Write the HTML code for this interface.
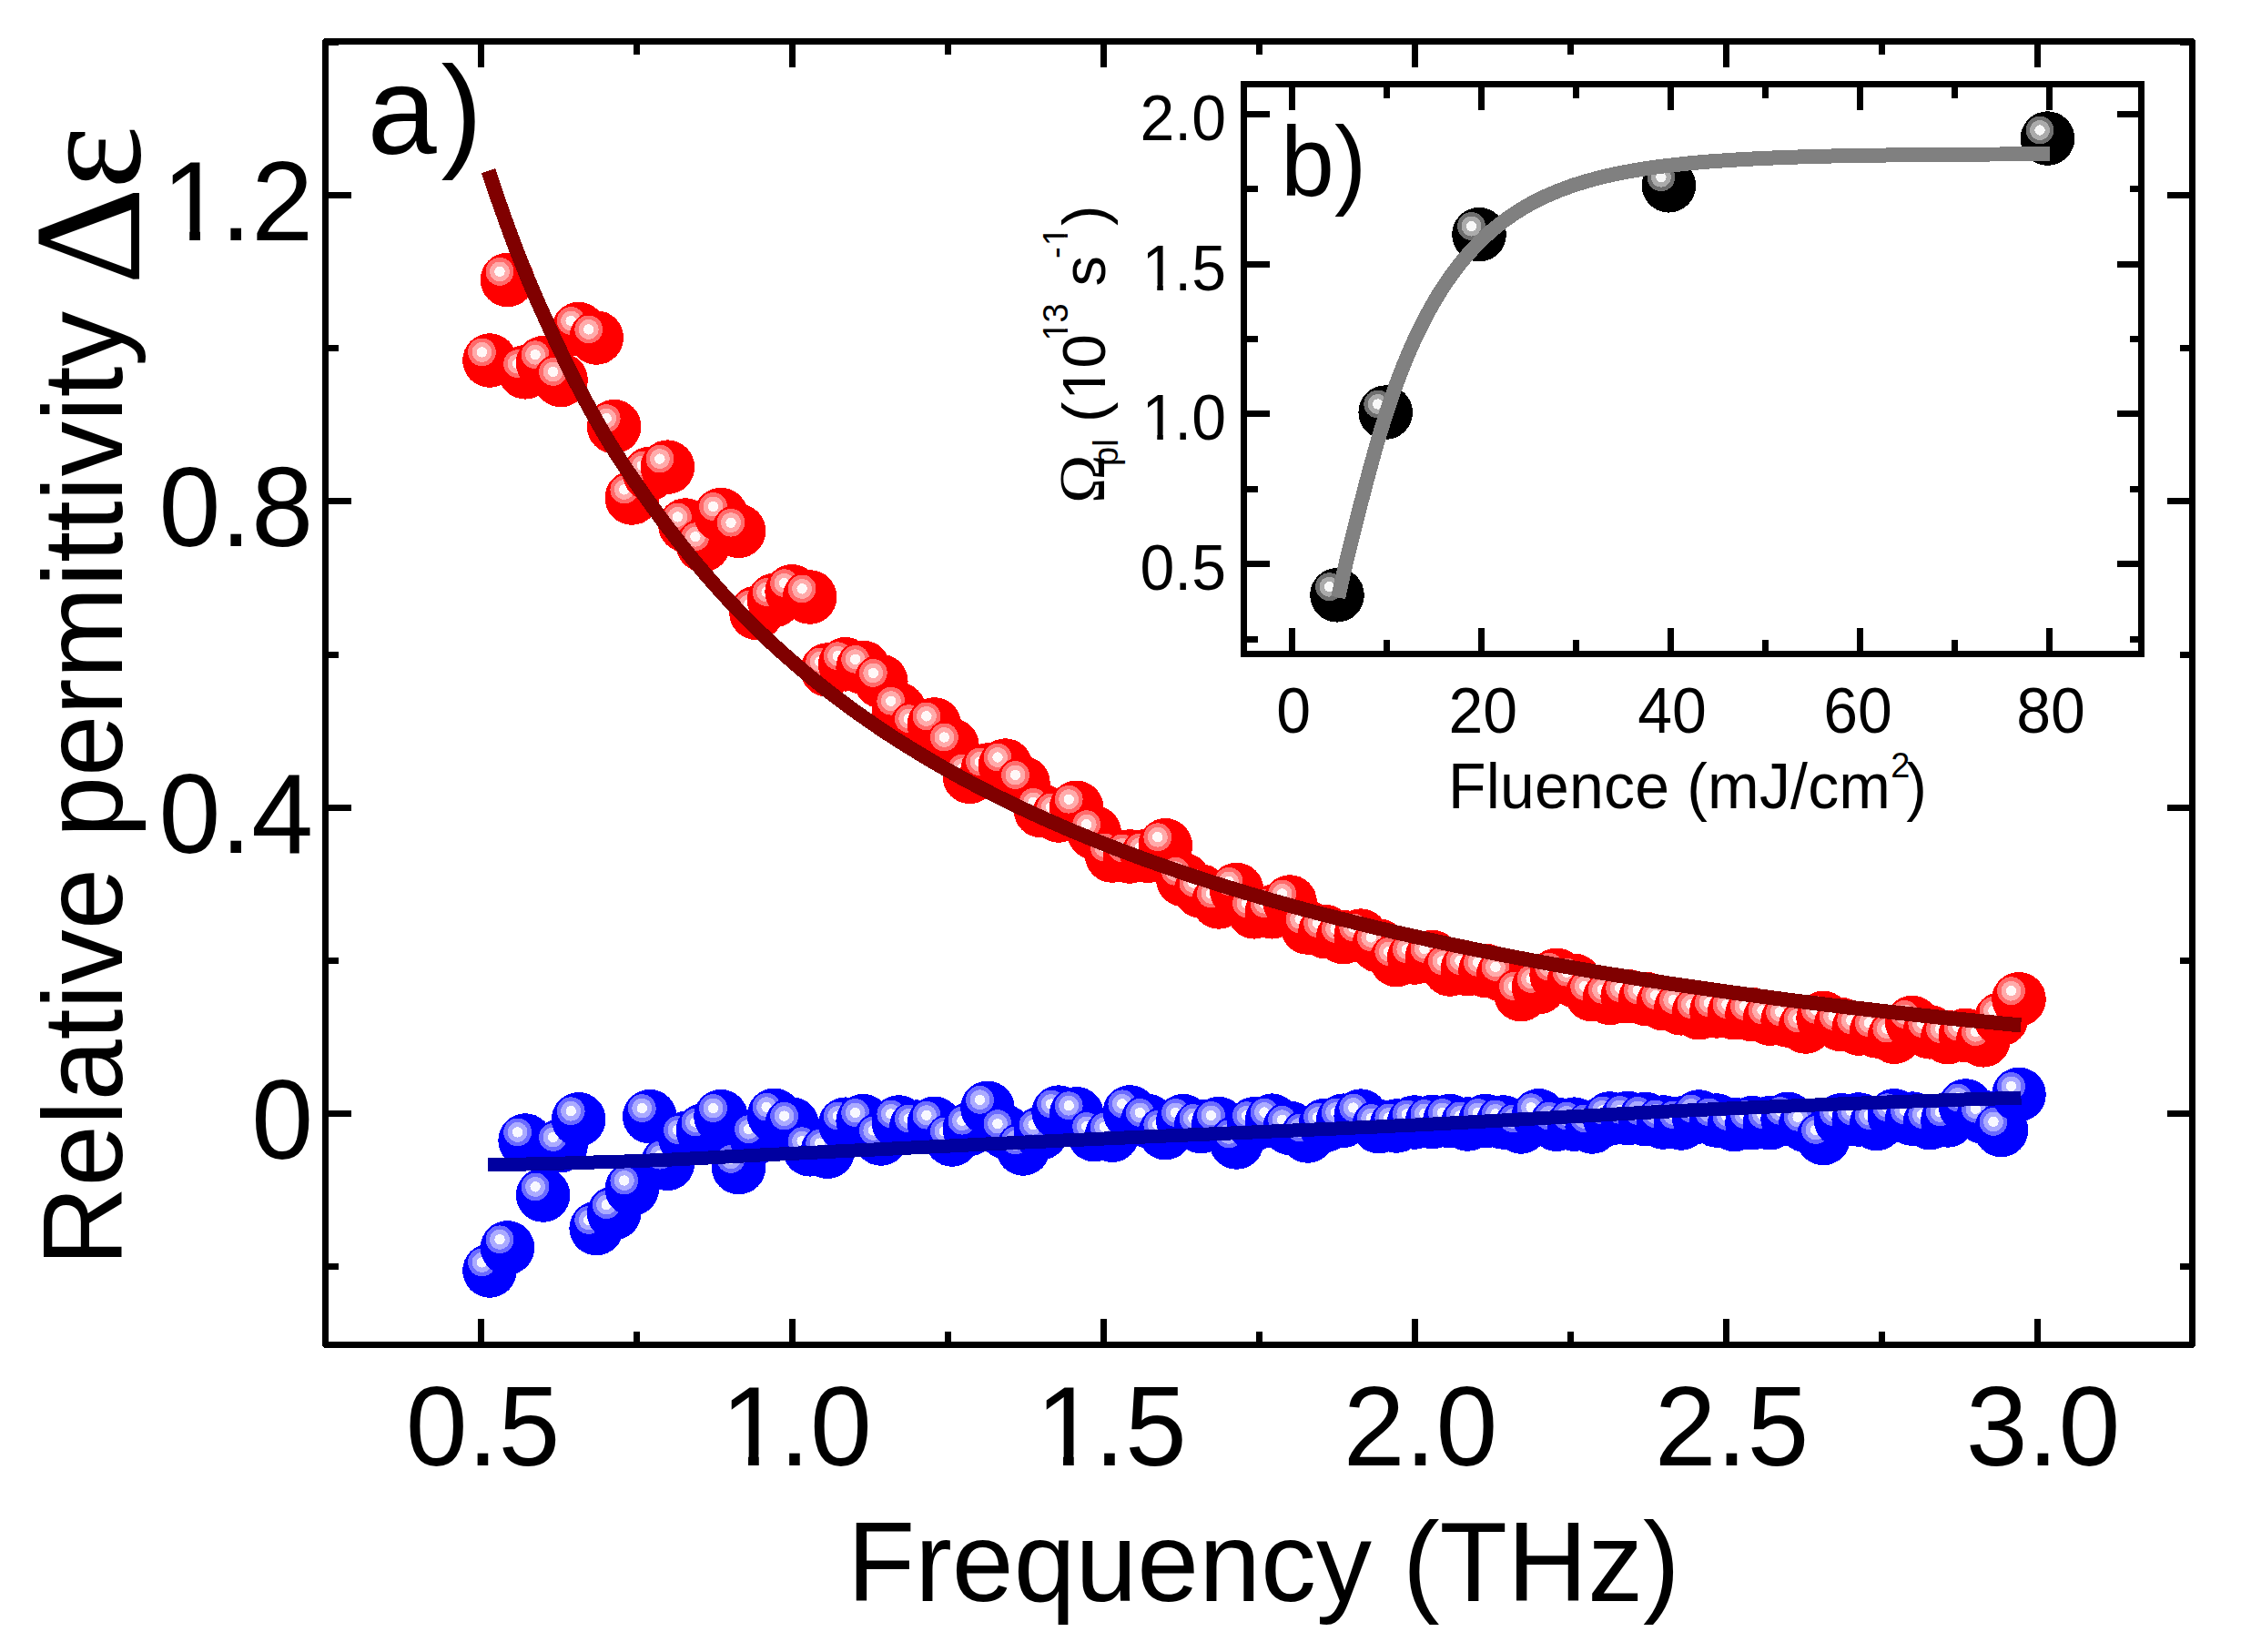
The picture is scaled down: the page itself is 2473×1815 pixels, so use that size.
<!DOCTYPE html>
<html lang="en"><head><meta charset="utf-8"><title>Relative permittivity vs frequency</title>
<style>html,body{margin:0;padding:0;background:#fff}svg{display:block}text{font-family:"Liberation Sans",sans-serif;fill:#000}.sy{font-family:"Liberation Serif",serif}</style></head><body>
<svg width="2473" height="1815" viewBox="0 0 2473 1815" shape-rendering="crispEdges">
<rect width="2473" height="1815" fill="#fff"/>
<defs>
<g id="r"><circle r="29.8" fill="#ff0000"/><circle cx="-8.5" cy="-9.1" r="15.4" fill="#ff6b6b"/><circle cx="-8.5" cy="-9.1" r="10.9" fill="#ffabab"/><circle cx="-8.5" cy="-9.1" r="5.7" fill="#fff8f8"/></g>
<g id="b"><circle r="29.8" fill="#0000ff"/><circle cx="-8.5" cy="-9.1" r="15.4" fill="#6b6bff"/><circle cx="-8.5" cy="-9.1" r="10.9" fill="#ababff"/><circle cx="-8.5" cy="-9.1" r="5.7" fill="#f8f8ff"/></g>
<g id="k"><circle r="29.8" fill="#000000"/><circle cx="-8.5" cy="-9.1" r="15.4" fill="#6e6e6e"/><circle cx="-8.5" cy="-9.1" r="10.9" fill="#ababab"/><circle cx="-8.5" cy="-9.1" r="5.7" fill="#f8f8f8"/></g>
<clipPath id="c1"><rect x="-10" y="-80" width="70" height="70.6"/><rect x="24.7" y="-80" width="9.6" height="82"/></clipPath>
</defs>
<g id="red">
<use href="#r" x="538.0" y="396.0"/>
<use href="#r" x="557.5" y="307.5"/>
<use href="#r" x="577.1" y="408.8"/>
<use href="#r" x="596.6" y="398.8"/>
<use href="#r" x="616.1" y="417.5"/>
<use href="#r" x="635.7" y="361.6"/>
<use href="#r" x="655.2" y="371.0"/>
<use href="#r" x="674.7" y="468.7"/>
<use href="#r" x="694.3" y="547.0"/>
<use href="#r" x="713.8" y="520.5"/>
<use href="#r" x="733.4" y="513.2"/>
<use href="#r" x="752.9" y="577.0"/>
<use href="#r" x="772.4" y="598.8"/>
<use href="#r" x="792.0" y="565.6"/>
<use href="#r" x="811.5" y="583.3"/>
<use href="#r" x="831.0" y="673.3"/>
<use href="#r" x="850.6" y="659.6"/>
<use href="#r" x="870.1" y="649.8"/>
<use href="#r" x="889.6" y="656.0"/>
<use href="#r" x="909.2" y="736.0"/>
<use href="#r" x="928.7" y="729.8"/>
<use href="#r" x="948.2" y="733.4"/>
<use href="#r" x="967.8" y="748.5"/>
<use href="#r" x="987.3" y="779.3"/>
<use href="#r" x="1006.8" y="798.8"/>
<use href="#r" x="1026.4" y="796.0"/>
<use href="#r" x="1045.9" y="819.1"/>
<use href="#r" x="1065.4" y="853.3"/>
<use href="#r" x="1085.0" y="846.0"/>
<use href="#r" x="1104.5" y="841.1"/>
<use href="#r" x="1124.0" y="860.5"/>
<use href="#r" x="1143.6" y="890.5"/>
<use href="#r" x="1163.1" y="896.0"/>
<use href="#r" x="1182.7" y="887.3"/>
<use href="#r" x="1202.2" y="914.8"/>
<use href="#r" x="1221.7" y="940.0"/>
<use href="#r" x="1241.3" y="941.0"/>
<use href="#r" x="1260.8" y="940.2"/>
<use href="#r" x="1280.3" y="928.8"/>
<use href="#r" x="1299.9" y="966.4"/>
<use href="#r" x="1319.4" y="979.1"/>
<use href="#r" x="1338.9" y="990.9"/>
<use href="#r" x="1358.5" y="977.5"/>
<use href="#r" x="1378.0" y="1001.8"/>
<use href="#r" x="1397.5" y="1001.8"/>
<use href="#r" x="1417.1" y="991.0"/>
<use href="#r" x="1436.6" y="1019.0"/>
<use href="#r" x="1456.1" y="1023.6"/>
<use href="#r" x="1475.7" y="1029.6"/>
<use href="#r" x="1495.2" y="1028.1"/>
<use href="#r" x="1514.8" y="1039.0"/>
<use href="#r" x="1534.3" y="1054.6"/>
<use href="#r" x="1553.8" y="1052.0"/>
<use href="#r" x="1573.4" y="1051.5"/>
<use href="#r" x="1592.9" y="1065.0"/>
<use href="#r" x="1612.4" y="1064.6"/>
<use href="#r" x="1632.0" y="1066.4"/>
<use href="#r" x="1651.5" y="1071.5"/>
<use href="#r" x="1671.0" y="1092.6"/>
<use href="#r" x="1690.6" y="1084.6"/>
<use href="#r" x="1710.1" y="1071.3"/>
<use href="#r" x="1729.6" y="1077.3"/>
<use href="#r" x="1749.2" y="1092.7"/>
<use href="#r" x="1768.7" y="1096.4"/>
<use href="#r" x="1788.2" y="1094.6"/>
<use href="#r" x="1807.8" y="1097.3"/>
<use href="#r" x="1827.3" y="1102.7"/>
<use href="#r" x="1846.8" y="1107.8"/>
<use href="#r" x="1866.4" y="1112.7"/>
<use href="#r" x="1885.9" y="1110.9"/>
<use href="#r" x="1905.5" y="1112.7"/>
<use href="#r" x="1925.0" y="1114.7"/>
<use href="#r" x="1944.5" y="1119.2"/>
<use href="#r" x="1964.1" y="1121.0"/>
<use href="#r" x="1983.6" y="1128.0"/>
<use href="#r" x="2003.1" y="1118.5"/>
<use href="#r" x="2022.7" y="1125.6"/>
<use href="#r" x="2042.2" y="1130.1"/>
<use href="#r" x="2061.7" y="1132.9"/>
<use href="#r" x="2081.3" y="1139.2"/>
<use href="#r" x="2100.8" y="1123.5"/>
<use href="#r" x="2120.3" y="1133.8"/>
<use href="#r" x="2139.9" y="1139.6"/>
<use href="#r" x="2159.4" y="1137.4"/>
<use href="#r" x="2178.9" y="1142.8"/>
<use href="#r" x="2198.5" y="1119.5"/>
<use href="#r" x="2218.0" y="1097.8"/>
</g>
<path d="M536.6 187.6 L547.3 219.6 L558.0 249.7 L568.7 278.3 L579.5 305.3 L590.5 331.0 L601.5 355.3 L612.2 378.5 L622.9 400.6 L633.5 421.7 L644.1 441.8 L654.7 461.1 L665.3 479.5 L676.1 497.2 L687.2 514.1 L698.3 530.3 L709.1 545.9 L719.9 561.0 L730.6 575.4 L741.2 589.3 L751.7 602.7 L762.2 615.7 L772.7 628.2 L783.2 640.2 L793.6 651.9 L804.1 663.2 L814.5 674.1 L825.0 684.6 L835.5 694.9 L845.9 704.8 L856.4 714.4 L866.9 723.7 L877.4 732.8 L887.8 741.6 L898.3 750.2 L908.8 758.5 L919.3 766.6 L929.8 774.4 L940.3 782.1 L950.9 789.5 L961.4 796.8 L971.9 803.9 L982.5 810.8 L993.0 817.5 L1003.6 824.0 L1014.1 830.4 L1024.7 836.7 L1035.2 842.8 L1045.8 848.7 L1056.3 854.5 L1066.9 860.2 L1077.5 865.8 L1088.0 871.2 L1098.6 876.5 L1109.2 881.7 L1119.7 886.8 L1130.3 891.7 L1140.9 896.6 L1151.5 901.4 L1162.0 906.0 L1172.6 910.6 L1183.2 915.1 L1193.8 919.4 L1204.3 923.7 L1214.9 927.9 L1225.5 932.1 L1236.1 936.1 L1246.6 940.1 L1257.2 944.0 L1267.8 947.8 L1278.4 951.5 L1289.0 955.2 L1299.5 958.8 L1310.1 962.4 L1320.7 965.8 L1331.3 969.3 L1341.9 972.6 L1352.4 975.9 L1363.0 979.1 L1373.6 982.3 L1384.2 985.4 L1394.8 988.5 L1405.4 991.5 L1415.9 994.5 L1426.5 997.4 L1437.1 1000.3 L1447.7 1003.1 L1458.3 1005.8 L1468.8 1008.6 L1479.4 1011.2 L1490.0 1013.9 L1500.6 1016.5 L1511.2 1019.0 L1521.7 1021.5 L1532.3 1024.0 L1542.9 1026.4 L1553.5 1028.8 L1564.1 1031.1 L1574.6 1033.5 L1585.2 1035.7 L1595.8 1038.0 L1606.4 1040.2 L1617.0 1042.4 L1627.5 1044.5 L1638.1 1046.6 L1648.7 1048.7 L1659.3 1050.7 L1669.9 1052.8 L1680.4 1054.7 L1691.0 1056.7 L1701.6 1058.6 L1712.2 1060.5 L1722.8 1062.4 L1733.3 1064.2 L1743.9 1066.0 L1754.5 1067.8 L1765.1 1069.6 L1775.7 1071.3 L1786.2 1073.0 L1796.8 1074.7 L1807.4 1076.4 L1818.0 1078.0 L1828.6 1079.7 L1839.1 1081.3 L1849.7 1082.8 L1860.3 1084.4 L1870.9 1085.9 L1881.5 1087.4 L1892.1 1088.9 L1902.6 1090.4 L1913.2 1091.8 L1923.8 1093.2 L1934.4 1094.6 L1945.0 1096.0 L1955.6 1097.4 L1966.1 1098.8 L1976.7 1100.1 L1987.3 1101.4 L1997.9 1102.7 L2008.5 1104.0 L2019.1 1105.2 L2029.7 1106.5 L2040.2 1107.7 L2050.8 1108.9 L2061.4 1110.1 L2072.0 1111.3 L2082.6 1112.5 L2093.2 1113.6 L2103.8 1114.8 L2114.3 1115.9 L2124.9 1117.0 L2135.5 1118.1 L2146.1 1119.2 L2156.7 1120.2 L2167.3 1121.3 L2177.9 1122.3 L2188.5 1123.3 L2199.0 1124.4 L2209.6 1125.4 L2220.2 1126.3" fill="none" stroke="#800000" stroke-width="16"/>
<g id="blue">
<use href="#b" x="538.0" y="1396.0"/>
<use href="#b" x="557.5" y="1370.9"/>
<use href="#b" x="577.1" y="1253.0"/>
<use href="#b" x="596.6" y="1313.0"/>
<use href="#b" x="616.1" y="1258.5"/>
<use href="#b" x="635.7" y="1229.8"/>
<use href="#b" x="655.2" y="1349.5"/>
<use href="#b" x="674.7" y="1332.7"/>
<use href="#b" x="694.3" y="1306.1"/>
<use href="#b" x="713.8" y="1226.7"/>
<use href="#b" x="733.4" y="1278.3"/>
<use href="#b" x="752.9" y="1250.7"/>
<use href="#b" x="772.4" y="1242.1"/>
<use href="#b" x="792.0" y="1226.7"/>
<use href="#b" x="811.5" y="1282.5"/>
<use href="#b" x="831.0" y="1249.8"/>
<use href="#b" x="850.6" y="1225.3"/>
<use href="#b" x="870.1" y="1235.2"/>
<use href="#b" x="889.6" y="1262.8"/>
<use href="#b" x="909.2" y="1265.2"/>
<use href="#b" x="928.7" y="1235.2"/>
<use href="#b" x="948.2" y="1231.6"/>
<use href="#b" x="967.8" y="1251.0"/>
<use href="#b" x="987.3" y="1233.0"/>
<use href="#b" x="1006.8" y="1238.1"/>
<use href="#b" x="1026.4" y="1234.3"/>
<use href="#b" x="1045.9" y="1252.0"/>
<use href="#b" x="1065.4" y="1240.3"/>
<use href="#b" x="1085.0" y="1217.4"/>
<use href="#b" x="1104.5" y="1243.7"/>
<use href="#b" x="1124.0" y="1262.0"/>
<use href="#b" x="1143.6" y="1244.8"/>
<use href="#b" x="1163.1" y="1222.1"/>
<use href="#b" x="1182.7" y="1223.8"/>
<use href="#b" x="1202.2" y="1246.6"/>
<use href="#b" x="1221.7" y="1247.2"/>
<use href="#b" x="1241.3" y="1221.9"/>
<use href="#b" x="1260.8" y="1231.5"/>
<use href="#b" x="1280.3" y="1244.6"/>
<use href="#b" x="1299.9" y="1231.6"/>
<use href="#b" x="1319.4" y="1237.6"/>
<use href="#b" x="1338.9" y="1234.6"/>
<use href="#b" x="1358.5" y="1255.0"/>
<use href="#b" x="1378.0" y="1234.8"/>
<use href="#b" x="1397.5" y="1231.2"/>
<use href="#b" x="1417.1" y="1239.4"/>
<use href="#b" x="1436.6" y="1248.0"/>
<use href="#b" x="1456.1" y="1236.3"/>
<use href="#b" x="1475.7" y="1231.2"/>
<use href="#b" x="1495.2" y="1226.1"/>
<use href="#b" x="1514.8" y="1237.6"/>
<use href="#b" x="1534.3" y="1237.0"/>
<use href="#b" x="1553.8" y="1233.0"/>
<use href="#b" x="1573.4" y="1232.6"/>
<use href="#b" x="1592.9" y="1231.6"/>
<use href="#b" x="1612.4" y="1235.0"/>
<use href="#b" x="1632.0" y="1231.6"/>
<use href="#b" x="1651.5" y="1233.0"/>
<use href="#b" x="1671.0" y="1238.0"/>
<use href="#b" x="1690.6" y="1225.8"/>
<use href="#b" x="1710.1" y="1235.2"/>
<use href="#b" x="1729.6" y="1235.2"/>
<use href="#b" x="1749.2" y="1238.0"/>
<use href="#b" x="1768.7" y="1229.0"/>
<use href="#b" x="1788.2" y="1228.5"/>
<use href="#b" x="1807.8" y="1229.5"/>
<use href="#b" x="1827.3" y="1233.0"/>
<use href="#b" x="1846.8" y="1234.0"/>
<use href="#b" x="1866.4" y="1227.0"/>
<use href="#b" x="1885.9" y="1231.0"/>
<use href="#b" x="1905.5" y="1235.5"/>
<use href="#b" x="1925.0" y="1233.7"/>
<use href="#b" x="1944.5" y="1233.7"/>
<use href="#b" x="1964.1" y="1229.5"/>
<use href="#b" x="1983.6" y="1236.4"/>
<use href="#b" x="2003.1" y="1250.5"/>
<use href="#b" x="2022.7" y="1230.8"/>
<use href="#b" x="2042.2" y="1230.0"/>
<use href="#b" x="2061.7" y="1234.5"/>
<use href="#b" x="2081.3" y="1225.8"/>
<use href="#b" x="2100.8" y="1229.1"/>
<use href="#b" x="2120.3" y="1233.6"/>
<use href="#b" x="2139.9" y="1230.9"/>
<use href="#b" x="2159.4" y="1215.0"/>
<use href="#b" x="2178.9" y="1227.3"/>
<use href="#b" x="2198.5" y="1241.5"/>
<use href="#b" x="2218.0" y="1202.5"/>
</g>
<path d="M535.8 1279.8 L550.0 1279.6 L564.1 1279.3 L578.3 1279.0 L592.4 1278.7 L606.6 1278.3 L620.7 1278.0 L634.9 1277.6 L649.1 1277.1 L663.2 1276.7 L677.4 1276.3 L691.5 1275.8 L705.7 1275.3 L719.8 1274.8 L734.0 1274.2 L748.2 1273.5 L762.3 1272.8 L776.5 1272.1 L790.6 1271.3 L804.8 1270.6 L818.9 1269.9 L833.1 1269.1 L847.3 1268.4 L861.4 1267.8 L875.6 1267.1 L889.7 1266.4 L903.9 1265.7 L918.0 1265.0 L932.2 1264.3 L946.4 1263.7 L960.5 1263.0 L974.7 1262.3 L988.8 1261.6 L1003.0 1260.9 L1017.1 1260.2 L1031.3 1259.6 L1045.5 1258.9 L1059.6 1258.2 L1073.8 1257.5 L1087.9 1256.8 L1102.1 1256.2 L1116.2 1255.5 L1130.4 1254.8 L1144.6 1254.2 L1158.7 1253.5 L1172.9 1252.8 L1187.0 1252.2 L1201.2 1251.5 L1215.3 1250.9 L1229.5 1250.3 L1243.7 1249.6 L1257.8 1249.0 L1272.0 1248.4 L1286.1 1247.8 L1300.3 1247.2 L1314.4 1246.6 L1328.6 1246.0 L1342.8 1245.4 L1356.9 1244.8 L1371.1 1244.2 L1385.2 1243.6 L1399.4 1242.9 L1413.5 1242.3 L1427.7 1241.7 L1441.9 1241.1 L1456.0 1240.5 L1470.2 1239.9 L1484.3 1239.2 L1498.5 1238.6 L1512.6 1238.0 L1526.8 1237.3 L1541.0 1236.6 L1555.1 1236.0 L1569.3 1235.3 L1583.4 1234.5 L1597.6 1233.8 L1611.7 1233.1 L1625.9 1232.3 L1640.1 1231.6 L1654.2 1230.8 L1668.4 1230.0 L1682.5 1229.2 L1696.7 1228.4 L1710.8 1227.6 L1725.0 1226.8 L1739.2 1226.1 L1753.3 1225.3 L1767.5 1224.5 L1781.6 1223.7 L1795.8 1223.0 L1809.9 1222.2 L1824.1 1221.5 L1838.3 1220.8 L1852.4 1220.1 L1866.6 1219.4 L1880.7 1218.8 L1894.9 1218.1 L1909.0 1217.5 L1923.2 1216.9 L1937.4 1216.3 L1951.5 1215.7 L1965.7 1215.1 L1979.8 1214.6 L1994.0 1214.0 L2008.1 1213.4 L2022.3 1212.9 L2036.5 1212.3 L2050.6 1211.8 L2064.8 1211.3 L2078.9 1210.8 L2093.1 1210.3 L2107.2 1209.8 L2121.4 1209.3 L2135.6 1208.8 L2149.7 1208.3 L2163.9 1207.8 L2178.0 1207.4 L2192.2 1207.0 L2206.3 1206.5 L2220.5 1206.1" fill="none" stroke="#0000a0" stroke-width="15"/>
<g stroke="#000" stroke-width="7" fill="none" shape-rendering="crispEdges">
<rect x="357.5" y="45.5" width="2051.0" height="1431.8" stroke-linejoin="round"/>
<path d="M528.0 1473.8v-24.5M528.0 49.0v24.5M699.0 1473.8v-10.5M699.0 49.0v10.5M870.0 1473.8v-24.5M870.0 49.0v24.5M1041.0 1473.8v-10.5M1041.0 49.0v10.5M1212.0 1473.8v-24.5M1212.0 49.0v24.5M1383.0 1473.8v-10.5M1383.0 49.0v10.5M1554.0 1473.8v-24.5M1554.0 49.0v24.5M1725.0 1473.8v-10.5M1725.0 49.0v10.5M1896.0 1473.8v-24.5M1896.0 49.0v24.5M2067.0 1473.8v-10.5M2067.0 49.0v10.5M2238.0 1473.8v-24.5M2238.0 49.0v24.5M361.0 1391.8h10.5M2405.0 1391.8h-10.5M361.0 1223.6h24.5M2405.0 1223.6h-24.5M361.0 1055.4h10.5M2405.0 1055.4h-10.5M361.0 887.2h24.5M2405.0 887.2h-24.5M361.0 719.0h10.5M2405.0 719.0h-10.5M361.0 550.8h24.5M2405.0 550.8h-24.5M361.0 382.6h10.5M2405.0 382.6h-10.5M361.0 214.4h24.5M2405.0 214.4h-24.5M361.0 46.2h10.5M2405.0 46.2h-10.5"/>
</g>
<g font-size="122">
<text transform="translate(530.5 1610.0) scale(1 1.025)" font-size="122" text-anchor="middle">0.5</text>
<g transform="translate(873.0 1610.0) scale(1 1.025)"><g transform="translate(-81.1 0) scale(1.220)" clip-path="url(#c1)"><text font-size="100">1</text></g><text x="-17.0" font-size="122">.0</text></g>
<g transform="translate(1219.0 1610.0) scale(1 1.025)"><g transform="translate(-81.1 0) scale(1.220)" clip-path="url(#c1)"><text font-size="100">1</text></g><text x="-17.0" font-size="122">.5</text></g>
<text transform="translate(1560.5 1610.0) scale(1 1.025)" font-size="122" text-anchor="middle">2.0</text>
<text transform="translate(1902.5 1610.0) scale(1 1.025)" font-size="122" text-anchor="middle">2.5</text>
<text transform="translate(2244.5 1610.0) scale(1 1.025)" font-size="122" text-anchor="middle">3.0</text>
<g transform="translate(344.0 263.9) scale(1 1.025)"><g transform="translate(-165.9 0) scale(1.220)" clip-path="url(#c1)"><text font-size="100">1</text></g><text x="-101.7" font-size="122">.2</text></g>
<text transform="translate(344.0 600.3) scale(1 1.025)" font-size="122" text-anchor="end">0.8</text>
<text transform="translate(344.0 936.7) scale(1 1.025)" font-size="122" text-anchor="end">0.4</text>
<text transform="translate(344.0 1273.1) scale(1 1.025)" font-size="122" text-anchor="end">0</text>
<text transform="translate(930.7 1758.5) scale(1 1.025)" font-size="122">Frequency (THz)</text>
</g>
<text x="403.5" y="169" font-size="137">a</text><text x="530" y="169" font-size="137" text-anchor="end">)</text>
<g transform="translate(133.5 1391) rotate(-90)"><text transform="scale(1 1.025)" font-size="121">Relative permittivity</text><text class="sy" x="1078" y="19.5" font-size="167">Δ<tspan dx="-2.5">ε</tspan></text></g>
<rect x="1366.5" y="92.5" width="986.0" height="625.8" fill="#fff"/>
<g id="inset-data">
<use href="#k" x="1469.0" y="653.8"/>
<use href="#k" x="1522.2" y="453.1"/>
<use href="#k" x="1625.0" y="257.7"/>
<use href="#k" x="1833.4" y="203.8"/>
<use href="#k" x="2249.5" y="152.1"/>
</g>
<path d="M1470.2 656.5 L1472.9 644.0 L1475.7 631.8 L1478.4 620.0 L1481.2 608.5 L1484.0 597.2 L1486.7 586.3 L1489.3 575.7 L1492.0 565.3 L1494.5 555.3 L1497.1 545.5 L1499.5 535.9 L1502.0 526.6 L1504.4 517.6 L1506.8 508.8 L1509.2 500.2 L1511.5 491.8 L1513.9 483.7 L1516.2 475.8 L1518.6 468.1 L1520.9 460.6 L1523.3 453.3 L1525.6 446.1 L1527.9 439.2 L1530.3 432.5 L1532.6 425.9 L1535.0 419.5 L1537.3 413.3 L1539.7 407.2 L1542.0 401.3 L1544.4 395.5 L1546.7 389.9 L1549.1 384.4 L1551.4 379.1 L1553.7 373.9 L1556.1 368.9 L1558.4 363.9 L1560.8 359.2 L1563.1 354.5 L1565.5 349.9 L1567.8 345.5 L1570.2 341.2 L1572.5 337.0 L1574.8 332.9 L1577.2 328.9 L1579.5 325.0 L1581.9 321.2 L1584.2 317.5 L1586.6 313.9 L1588.9 310.4 L1591.3 306.9 L1593.6 303.6 L1596.0 300.4 L1598.3 297.2 L1600.6 294.1 L1603.0 291.1 L1605.3 288.2 L1607.7 285.3 L1610.0 282.5 L1612.4 279.8 L1614.7 277.1 L1617.1 274.6 L1619.4 272.0 L1621.8 269.6 L1624.1 267.2 L1626.4 264.9 L1628.8 262.6 L1631.1 260.4 L1633.5 258.2 L1635.8 256.1 L1638.2 254.0 L1640.5 252.0 L1642.9 250.1 L1645.2 248.2 L1647.6 246.3 L1649.9 244.5 L1652.2 242.7 L1654.6 241.0 L1656.9 239.3 L1659.3 237.7 L1661.6 236.1 L1664.0 234.5 L1666.3 233.0 L1668.7 231.5 L1671.0 230.0 L1673.4 228.6 L1675.7 227.2 L1678.0 225.9 L1680.4 224.6 L1682.7 223.3 L1685.1 222.0 L1687.4 220.8 L1689.8 219.6 L1692.1 218.5 L1694.5 217.3 L1696.8 216.2 L1699.2 215.1 L1701.5 214.1 L1703.8 213.1 L1706.2 212.1 L1708.5 211.1 L1710.9 210.1 L1713.2 209.2 L1715.6 208.3 L1717.9 207.4 L1720.3 206.5 L1722.6 205.7 L1724.9 204.8 L1727.3 204.0 L1729.6 203.2 L1732.0 202.5 L1734.3 201.7 L1736.7 201.0 L1739.0 200.3 L1741.4 199.6 L1743.7 198.9 L1746.1 198.2 L1748.4 197.6 L1750.7 196.9 L1753.1 196.3 L1755.4 195.7 L1757.8 195.1 L1760.1 194.5 L1762.5 193.9 L1764.8 193.4 L1767.2 192.9 L1769.5 192.3 L1771.9 191.8 L1774.2 191.3 L1776.5 190.8 L1778.9 190.3 L1781.2 189.9 L1783.6 189.4 L1785.9 189.0 L1788.3 188.5 L1790.6 188.1 L1793.0 187.7 L1795.3 187.3 L1797.7 186.9 L1800.0 186.5 L1809.2 185.0 L1818.4 183.7 L1827.7 182.5 L1836.9 181.4 L1846.1 180.4 L1855.3 179.4 L1864.6 178.6 L1873.8 177.8 L1883.0 177.1 L1892.2 176.5 L1901.4 175.9 L1910.7 175.3 L1919.9 174.8 L1929.1 174.3 L1938.3 173.9 L1947.6 173.5 L1956.8 173.2 L1966.0 172.8 L1975.2 172.5 L1984.4 172.3 L1993.7 172.0 L2002.9 171.8 L2012.1 171.5 L2021.3 171.3 L2030.6 171.2 L2039.8 171.0 L2049.0 170.8 L2058.2 170.7 L2067.5 170.6 L2076.7 170.4 L2085.9 170.3 L2095.1 170.2 L2104.3 170.1 L2113.6 170.0 L2122.8 170.0 L2132.0 169.9 L2141.2 169.8 L2150.5 169.7 L2159.7 169.7 L2168.9 169.6 L2178.1 169.6 L2187.3 169.5 L2196.6 169.5 L2205.8 169.4 L2215.0 169.4 L2224.2 169.4 L2233.5 169.3 L2242.7 169.3 L2251.9 169.3" fill="none" stroke="#808080" stroke-width="16"/>
<g stroke="#000" stroke-width="7" fill="none" shape-rendering="crispEdges">
<rect x="1366.5" y="92.5" width="986.0" height="625.8"/>
<path d="M1419.7 714.8v-25M1419.7 96.0v25M1523.7 714.8v-11.5M1523.7 96.0v11.5M1627.7 714.8v-25M1627.7 96.0v25M1731.6 714.8v-11.5M1731.6 96.0v11.5M1835.6 714.8v-25M1835.6 96.0v25M1939.6 714.8v-11.5M1939.6 96.0v11.5M2043.6 714.8v-25M2043.6 96.0v25M2147.5 714.8v-11.5M2147.5 96.0v11.5M2251.5 714.8v-25M2251.5 96.0v25M1370.0 702.2h11.5M2349.0 702.2h-9.5M1370.0 619.8h25M2349.0 619.8h-23M1370.0 537.3h11.5M2349.0 537.3h-9.5M1370.0 454.9h25M2349.0 454.9h-23M1370.0 372.5h11.5M2349.0 372.5h-9.5M1370.0 290.0h25M2349.0 290.0h-23M1370.0 207.6h11.5M2349.0 207.6h-9.5M1370.0 125.2h25M2349.0 125.2h-23"/>
</g>
<g font-size="68">
<text transform="translate(1421.2 805.0) scale(1 1.025)" font-size="68" text-anchor="middle">0</text>
<text transform="translate(1629.2 805.0) scale(1 1.025)" font-size="68" text-anchor="middle">20</text>
<text transform="translate(1837.1 805.0) scale(1 1.025)" font-size="68" text-anchor="middle">40</text>
<text transform="translate(2041.1 805.0) scale(1 1.025)" font-size="68" text-anchor="middle">60</text>
<text transform="translate(2253.0 805.0) scale(1 1.025)" font-size="68" text-anchor="middle">80</text>
<text transform="translate(1347.0 153.7) scale(1 1.025)" font-size="68" text-anchor="end">2.0</text>
<g transform="translate(1347.0 318.5) scale(1 1.025)"><g transform="translate(-92.5 0) scale(0.680)" clip-path="url(#c1)"><text font-size="100">1</text></g><text x="-56.7" font-size="68">.5</text></g>
<g transform="translate(1347.0 483.4) scale(1 1.025)"><g transform="translate(-92.5 0) scale(0.680)" clip-path="url(#c1)"><text font-size="100">1</text></g><text x="-56.7" font-size="68">.0</text></g>
<text transform="translate(1347.0 648.2) scale(1 1.025)" font-size="68" text-anchor="end">0.5</text>
<text transform="translate(1591 888) scale(1 1.025)"><tspan textLength="486" lengthAdjust="spacing">Fluence (mJ/cm</tspan><tspan font-size="38" dy="-33">2</tspan><tspan dy="33" dx="-4">)</tspan></text>
</g>
<text transform="translate(1407.0 215.0) scale(1 1.025)" font-size="106">b)</text>
<g transform="translate(1214 0) rotate(-90)" font-size="67"><text class="sy" x="-553" y="-1.5" font-size="72">Ω</text><text x="-512" y="14" font-size="38">pl</text><text x="-464.0" font-size="67">(</text><g transform="translate(-439.7 0) scale(0.670)" clip-path="url(#c1)"><text font-size="100">1</text></g><text x="-404.4" font-size="67">0</text><g transform="translate(0 -41.5)"><g transform="translate(-374.4 0) scale(0.380)" clip-path="url(#c1)"><text font-size="100">1</text></g><text x="-354.4" font-size="38">3</text></g><text x="-314.5" y="0">s</text><g transform="translate(0 -41.5)"><text x="-284.0" font-size="38">-</text><g transform="translate(-270.2 0) scale(0.380)" clip-path="url(#c1)"><text font-size="100">1</text></g></g><text x="-248" y="0">)</text></g>
</svg></body></html>
